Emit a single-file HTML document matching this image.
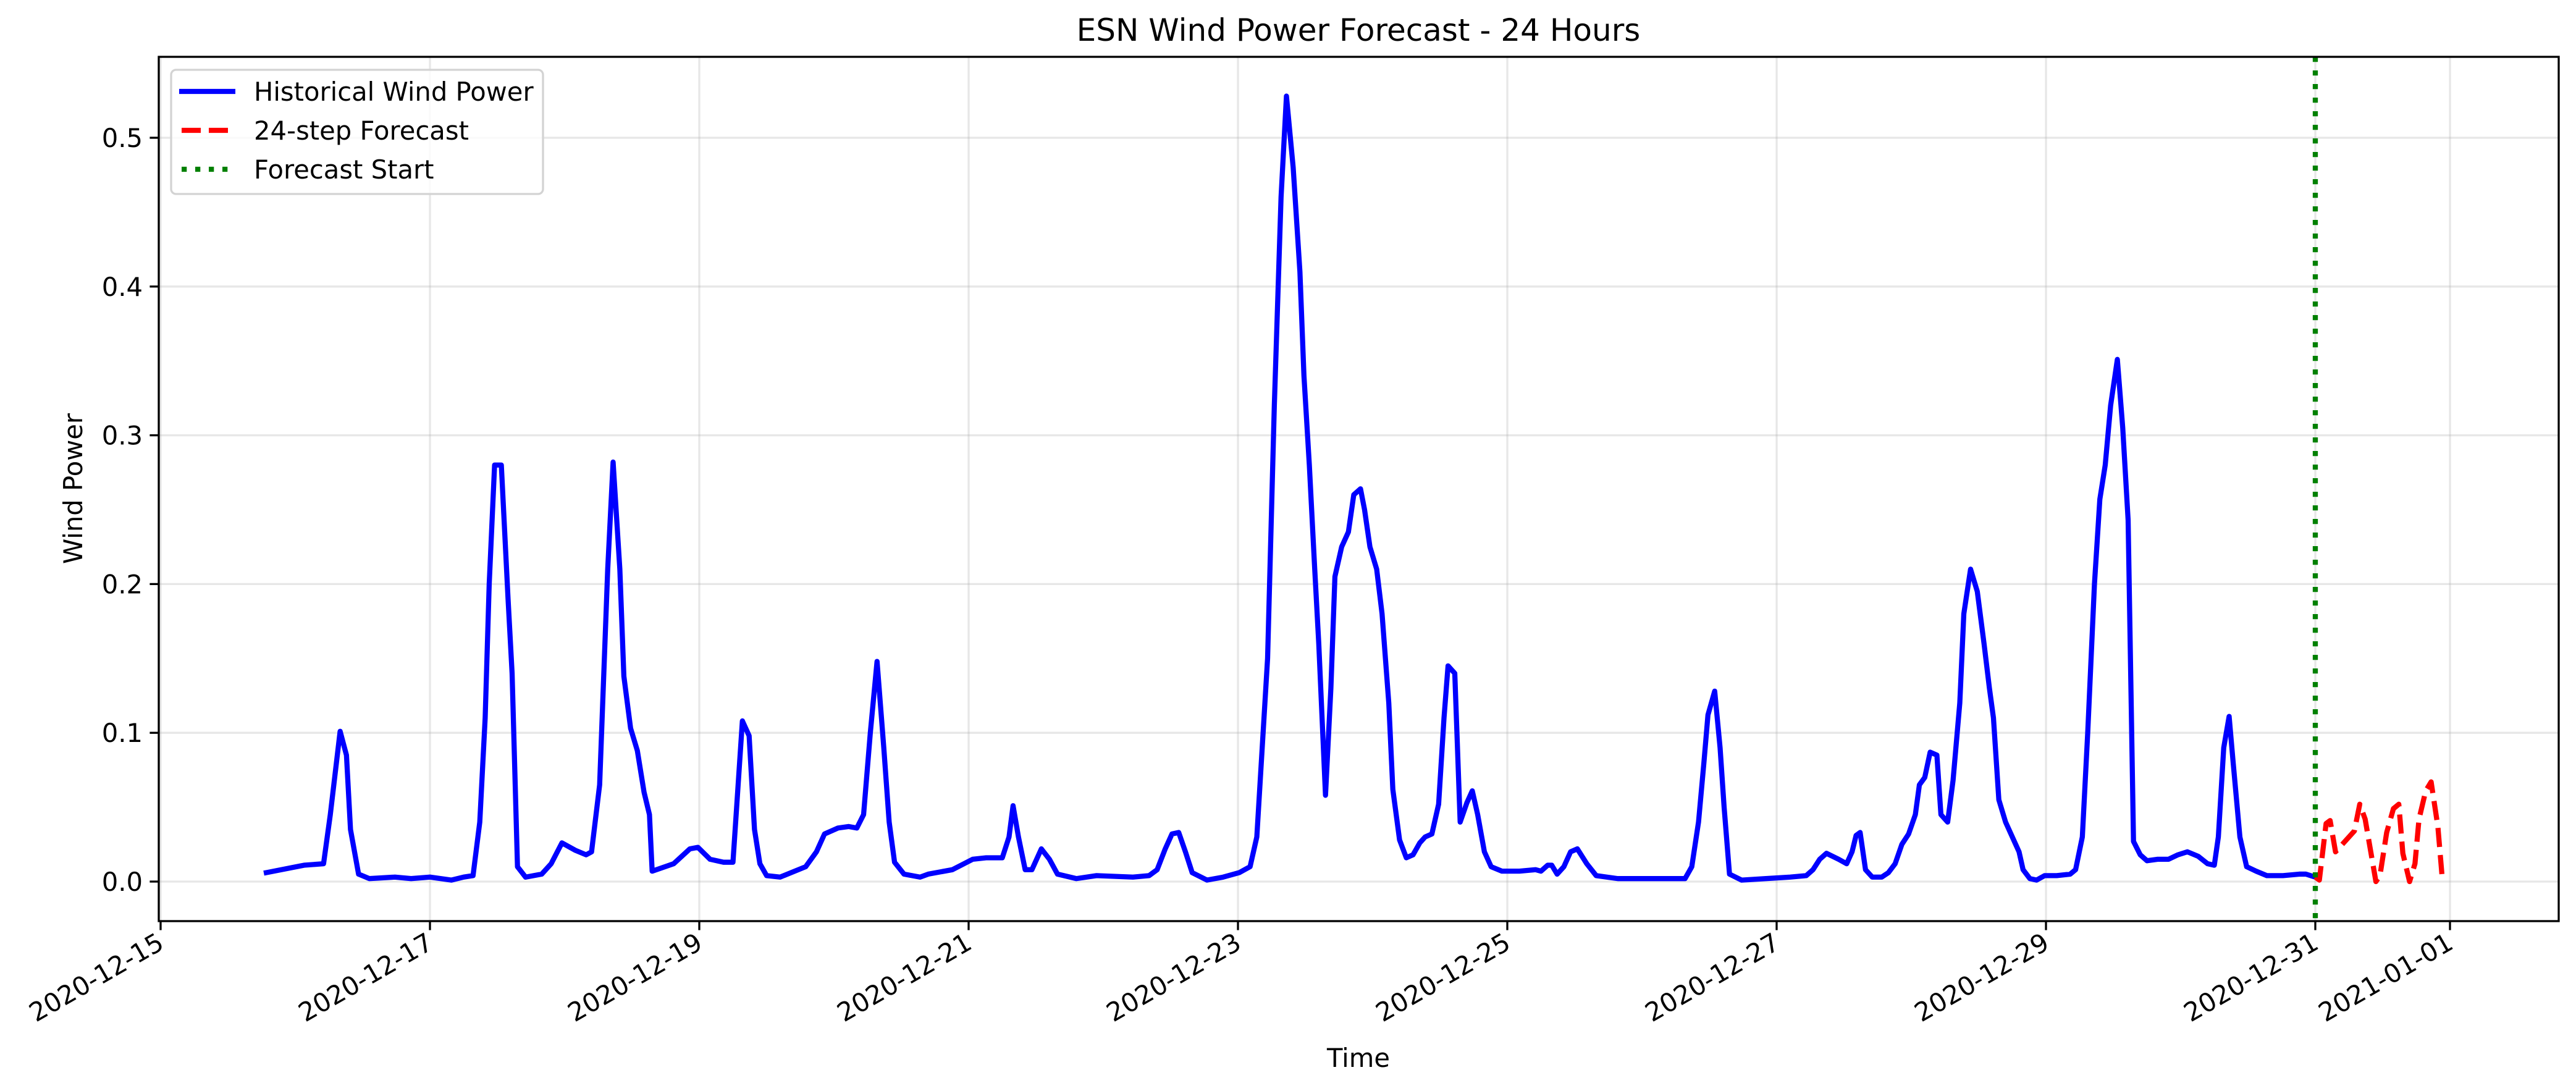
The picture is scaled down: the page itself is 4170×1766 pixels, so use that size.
<!DOCTYPE html>
<html><head><meta charset="utf-8"><style>
html,body{margin:0;padding:0;background:#fff;}
svg{display:block;font-family:"DejaVu Sans","Liberation Sans",sans-serif;}
</style></head><body>
<svg id="chart" width="4170" height="1766" viewBox="0 0 4170 1766" xmlns="http://www.w3.org/2000/svg">
<rect x="0" y="0" width="4170" height="1766" fill="#fff"/>
<g id="grid"></g>
<g id="series"></g>
<rect x="257" y="92" width="3885" height="1399" fill="none" stroke="#000" stroke-width="3.3"/>
<g id="axes"></g>
<text x="2199" y="66" font-size="50" text-anchor="middle">ESN Wind Power Forecast - 24 Hours</text>
<text x="2199" y="1727" font-size="41.7" text-anchor="middle">Time</text>
<text x="0" y="0" font-size="41.7" text-anchor="middle" transform="translate(133,791) rotate(-90)">Wind Power</text>
<g>
<rect x="277" y="113" width="602" height="201" rx="8" fill="#fff" fill-opacity="0.8" stroke="#d3d3d3" stroke-width="3.3"/>
<line x1="290" y1="148" x2="381" y2="148" stroke="#0000ff" stroke-width="8.3"/>
<text x="411" y="163" font-size="41.7">Historical Wind Power</text>
<line x1="294" y1="211" x2="381" y2="211" stroke="#ff0000" stroke-width="8.3" stroke-dasharray="31,13"/>
<text x="411" y="226" font-size="41.7">24-step Forecast</text>
<line x1="294" y1="274" x2="381" y2="274" stroke="#008000" stroke-width="8.3" stroke-dasharray="8.3,13.7"/>
<text x="411" y="289" font-size="41.7">Forecast Start</text>
</g>
</svg>
<script>
// days since 2020-12-15 00:00
const histDays = [0.785,1.065,1.21,1.26,1.333,1.38,1.41,1.47,1.55,1.74,1.86,2.0,2.16,2.25,2.32,2.37,2.41,2.44,2.48,2.53,2.58,2.61,2.65,2.71,2.83,2.90,2.98,3.08,3.16,3.2,3.26,3.32,3.36,3.41,3.44,3.49,3.54,3.59,3.63,3.65,3.81,3.93,3.99,4.08,4.18,4.25,4.27,4.32,4.37,4.41,4.45,4.5,4.6,4.79,4.87,4.93,5.03,5.11,5.17,5.22,5.27,5.32,5.37,5.41,5.45,5.52,5.64,5.7,5.88,6.03,6.13,6.25,6.30,6.33,6.37,6.42,6.47,6.54,6.6,6.66,6.8,6.95,7.22,7.34,7.4,7.46,7.51,7.56,7.61,7.66,7.77,7.89,8.01,8.09,8.14,8.17,8.22,8.27,8.32,8.36,8.41,8.46,8.49,8.53,8.57,8.60,8.65,8.69,8.72,8.77,8.82,8.86,8.91,8.94,8.98,9.03,9.07,9.12,9.15,9.2,9.25,9.3,9.35,9.39,9.44,9.49,9.53,9.56,9.61,9.65,9.70,9.74,9.78,9.83,9.88,9.96,10.09,10.21,10.25,10.3,10.33,10.37,10.42,10.47,10.52,10.59,10.66,10.82,11.0,11.13,11.25,11.32,11.37,11.42,11.46,11.49,11.54,11.58,11.61,11.65,11.74,11.92,12.1,12.22,12.27,12.32,12.37,12.46,12.52,12.56,12.59,12.62,12.66,12.71,12.78,12.83,12.88,12.93,12.98,13.03,13.06,13.1,13.14,13.19,13.22,13.27,13.31,13.36,13.39,13.44,13.49,13.54,13.58,13.61,13.65,13.70,13.75,13.80,13.83,13.88,13.93,13.99,14.08,14.18,14.22,14.27,14.31,14.36,14.40,14.44,14.48,14.53,14.57,14.61,14.65,14.70,14.75,14.83,14.91,14.98,15.05,15.13,15.20,15.25,15.28,15.32,15.36,15.39,15.44,15.49,15.56,15.64,15.76,15.88,15.93,16.0];
const histValues = [.006,.011,.012,.045,.101,.085,.035,.005,.002,.003,.002,.003,.001,.003,.004,.04,.11,.2,.28,.28,.19,.14,.01,.003,.005,.012,.026,.021,.018,.02,.065,.21,.282,.21,.138,.103,.088,.06,.045,.007,.012,.022,.023,.015,.013,.013,.04,.108,.098,.035,.012,.004,.003,.01,.02,.032,.036,.037,.036,.045,.1,.148,.09,.04,.013,.005,.003,.005,.008,.015,.016,.016,.03,.051,.03,.008,.008,.022,.015,.005,.002,.004,.003,.004,.008,.022,.032,.033,.02,.006,.001,.003,.006,.01,.03,.075,.15,.32,.46,.528,.48,.41,.34,.28,.21,.16,.058,.13,.205,.225,.235,.26,.264,.25,.225,.21,.18,.12,.062,.028,.016,.018,.026,.03,.032,.052,.11,.145,.14,.04,.053,.061,.045,.02,.01,.007,.007,.008,.007,.011,.011,.005,.01,.02,.022,.012,.004,.002,.002,.002,.002,.002,.01,.04,.08,.112,.128,.09,.05,.005,.001,.002,.003,.004,.008,.015,.019,.015,.012,.02,.031,.033,.008,.003,.003,.006,.012,.025,.032,.045,.065,.07,.087,.085,.045,.04,.068,.12,.18,.21,.195,.16,.13,.11,.055,.04,.03,.02,.008,.002,.001,.004,.004,.005,.008,.03,.1,.2,.257,.28,.32,.351,.305,.243,.027,.018,.014,.015,.015,.018,.02,.017,.012,.011,.03,.09,.111,.08,.03,.01,.007,.004,.004,.005,.005,.003];
const fcDays = [16.0,16.03,16.08,16.11,16.15,16.22,16.29,16.33,16.37,16.45,16.48,16.53,16.58,16.62,16.65,16.70,16.74,16.77,16.82,16.86,16.91,16.94,16.97];
const fcValues = [.003,.001,.039,.041,.020,.027,.034,.052,.042,.000,.004,.033,.049,.052,.019,.000,.012,.042,.061,.067,.037,.005,.002];
const forecastStartDay = 16;
const xTickDays = [0,2,4,6,8,10,12,14,16,17];
const xTickLabels = ["2020-12-15","2020-12-17","2020-12-19","2020-12-21","2020-12-23","2020-12-25","2020-12-27","2020-12-29","2020-12-31","2021-01-01"];
const yTickValues = [0,0.1,0.2,0.3,0.4,0.5];
const yTickLabels = ["0.0","0.1","0.2","0.3","0.4","0.5"];

const NS="http://www.w3.org/2000/svg";
const X0=260, DAY=218, Y0=1427, UNIT=2408, TOP=92, BOT=1491, LEFT=257, RIGHT=4142;
const xs=d=>X0+d*DAY, ys=v=>Y0-v*UNIT;
function mk(tag,attrs,parent){const e=document.createElementNS(NS,tag);for(const k in attrs)e.setAttribute(k,attrs[k]);parent.appendChild(e);return e;}
const grid=document.getElementById('grid'), axes=document.getElementById('axes'), series=document.getElementById('series');
xTickDays.forEach((d,i)=>{
  const x=xs(d);
  const g=mk('line',{x1:x,y1:TOP,x2:x,y2:BOT,stroke:'#b0b0b0','stroke-opacity':0.3,'stroke-width':3.3},grid);
  
  
  const t=mk('line',{x1:x,y1:BOT,x2:x,y2:BOT+14.6,stroke:'#000','stroke-width':3.3},axes);
  
  
  const lb=mk('text',{x:0,y:0,'font-size':41.7,'text-anchor':'end',transform:`translate(${x+8},${BOT+43}) rotate(-30)`},axes);
  lb.textContent=xTickLabels[i];
  
  
});
yTickValues.forEach((v,i)=>{
  const y=ys(v);
  const g=mk('line',{x1:LEFT,y1:y,x2:RIGHT,y2:y,stroke:'#b0b0b0','stroke-opacity':0.3,'stroke-width':3.3},grid);
  
  
  const t=mk('line',{x1:LEFT-14.6,y1:y,x2:LEFT,y2:y,stroke:'#000','stroke-width':3.3},axes);
  
  
  const lb=mk('text',{x:LEFT-26,y:y+15,'font-size':41.7,'text-anchor':'end'},axes);
  lb.textContent=yTickLabels[i];
  
  
});
const hp=mk('polyline',{points:histDays.map((d,i)=>xs(d)+','+ys(histValues[i])).join(' '),fill:'none',stroke:'#0000ff','stroke-width':8.3,'stroke-linejoin':'round','stroke-linecap':'square'},series);


const fp=mk('polyline',{points:fcDays.map((d,i)=>xs(d)+','+ys(fcValues[i])).join(' '),fill:'none',stroke:'#ff0000','stroke-width':8.3,'stroke-dasharray':'31,13','stroke-linejoin':'round'},series);


const vl=mk('line',{x1:xs(forecastStartDay),y1:TOP,x2:xs(forecastStartDay),y2:BOT,stroke:'#008000','stroke-width':8.3,'stroke-dasharray':'8.3,13.7'},series);


</script>
</body></html>
